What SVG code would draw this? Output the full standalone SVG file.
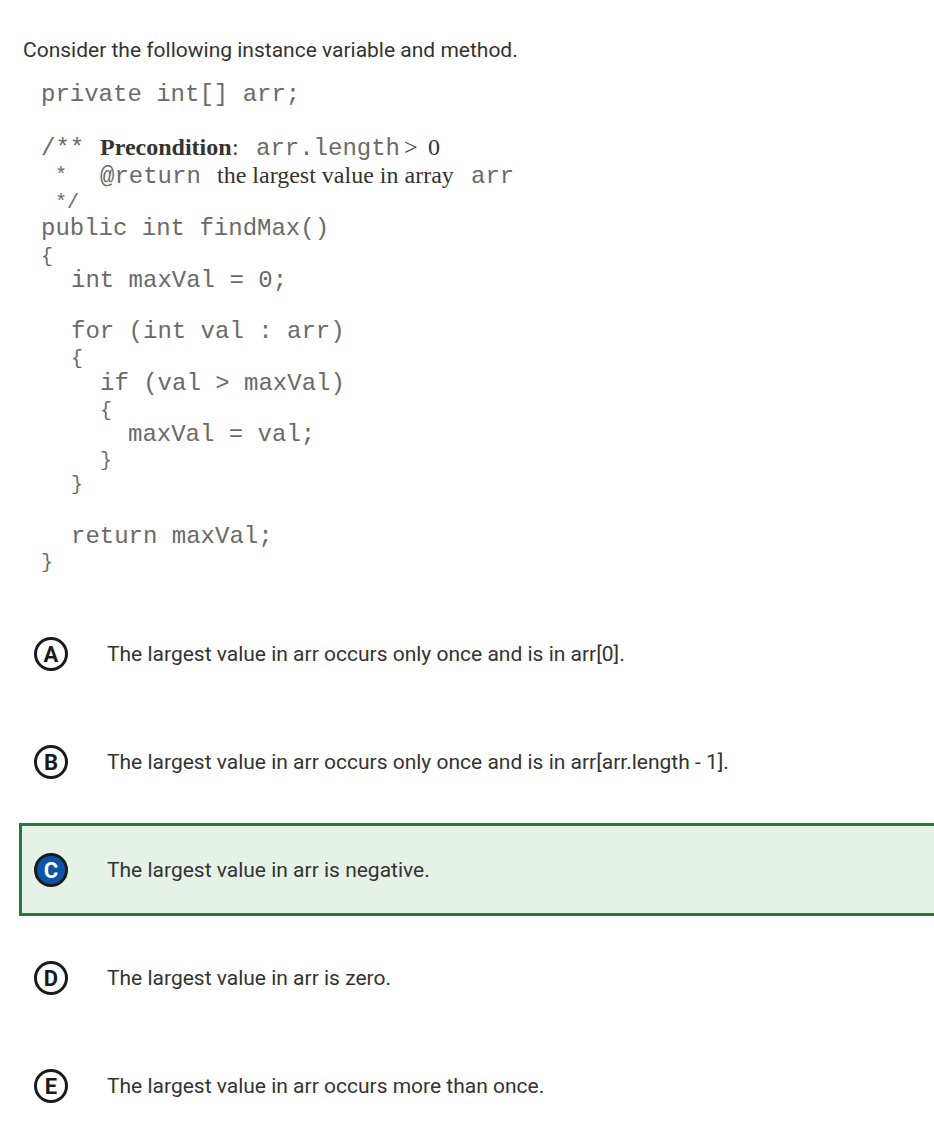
<svg xmlns="http://www.w3.org/2000/svg" width="934" height="1140" viewBox="0 0 934 1140">
<style>
.m{font-family:"Liberation Mono",monospace;font-size:24px;fill:#6a6a6a}
.b{font-size:20px}
.s{font-family:"Liberation Serif",serif;font-size:24px;fill:#333}
.t{font-family:Roboto,"Liberation Sans",sans-serif;font-size:21px;fill:#333}
.c{fill:#fff;stroke:#1a1a1a;stroke-width:3}
.l{font-family:Roboto,"Liberation Sans",sans-serif;font-size:22px;font-weight:bold;fill:#1a1a1a;text-anchor:middle}
</style>
<rect width="934" height="1140" fill="#fff"/>
<text class="t" x="23" y="57">Consider the following instance variable and method.</text>
<text class="m" x="41" y="101">private int[] arr;</text>
<text class="m" x="41" y="155">/**</text>
<text class="s" x="100" y="155" font-weight="bold">Precondition</text><text class="s" x="232" y="155">:</text>
<text class="m" x="256" y="155">arr.length</text><text class="s" x="404" y="155">&gt;</text><text class="s" x="428" y="155">0</text>
<text class="m b" x="55" y="181">*</text>
<text class="m" x="100" y="183">@return</text>
<text class="s" x="217" y="183">the largest value in array</text>
<text class="m" x="471" y="183">arr</text>
<text class="m b" x="55" y="208">*/</text>
<text class="m" x="41" y="235">public int findMax()</text>
<text class="m b" x="41" y="262">{</text>
<text class="m" x="71" y="287">int maxVal = 0;</text>
<text class="m" x="71" y="338">for (int val : arr)</text>
<text class="m b" x="71" y="364">{</text>
<text class="m" x="100" y="390">if (val &gt; maxVal)</text>
<text class="m b" x="100" y="416">{</text>
<text class="m" x="128" y="441">maxVal = val;</text>
<text class="m b" x="100" y="466">}</text>
<text class="m b" x="71" y="490">}</text>
<text class="m" x="71" y="543">return maxVal;</text>
<text class="m b" x="41" y="568">}</text>
<rect x="20.5" y="824.5" width="920" height="90" fill="#e6f2e8" stroke="#237a35" stroke-width="3"/>
<g id="optA"><circle class="c" cx="51" cy="654" r="15.5"/><text class="l" x="51" y="662">A</text><text class="t" x="107" y="661">The largest value in arr occurs only once and is in arr[0].</text></g>
<g id="optB"><circle class="c" cx="51" cy="762" r="15.5"/><text class="l" x="51" y="770">B</text><text class="t" x="107" y="769">The largest value in arr occurs only once and is in arr[arr.length - 1].</text></g>
<g id="optC"><circle cx="51" cy="870" r="15.5" fill="#0a55a8" stroke="#1a1a1a" stroke-width="3"/><text class="l" x="51" y="878" style="fill:#fff">C</text><text class="t" x="107" y="877">The largest value in arr is negative.</text></g>
<g id="optD"><circle class="c" cx="51" cy="978" r="15.5"/><text class="l" x="51" y="986">D</text><text class="t" x="107" y="985">The largest value in arr is zero.</text></g>
<g id="optE"><circle class="c" cx="51" cy="1086" r="15.5"/><text class="l" x="51" y="1094">E</text><text class="t" x="107" y="1093">The largest value in arr occurs more than once.</text></g>
</svg>
